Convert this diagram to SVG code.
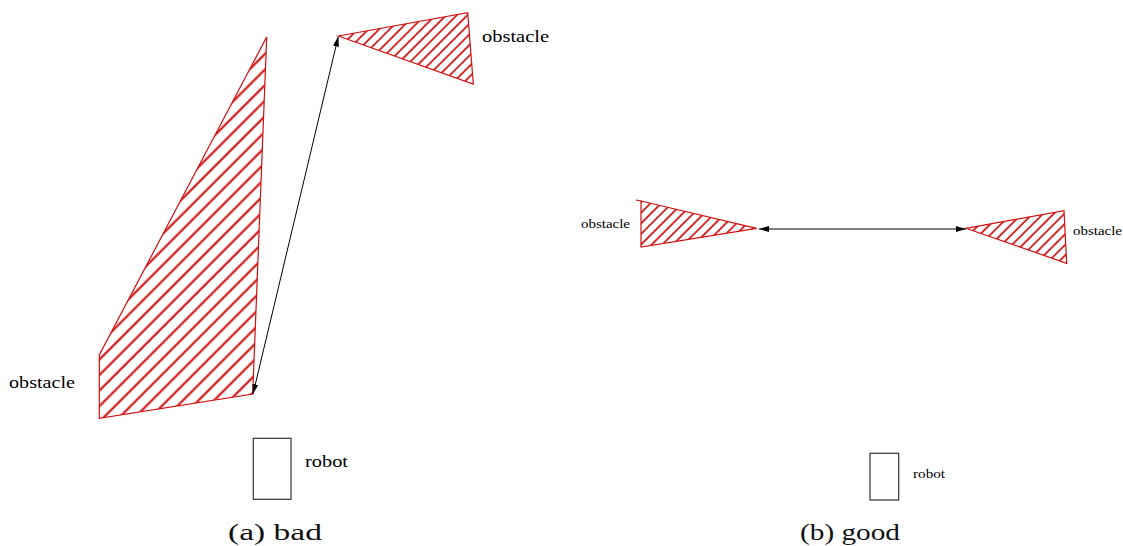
<svg xmlns="http://www.w3.org/2000/svg" width="1123" height="546" viewBox="0 0 1123 546">
<style>
.obs{stroke:#d01010;stroke-width:1.2;stroke-linejoin:miter}
.lbl{font-family:"Liberation Serif",serif;fill:#000}
.rob{fill:none;stroke:#333;stroke-width:1.2}
.con{stroke:#000;stroke-width:1;fill:none;marker-start:url(#ah);marker-end:url(#ah)}
.cap{font-family:"Liberation Serif",serif;font-size:23px;fill:#111}
</style>
<defs>
<pattern id="hatchL" patternUnits="userSpaceOnUse" width="11" height="11" patternTransform="rotate(-45)">
<line x1="0" y1="5.5" x2="11" y2="5.5" stroke="#cc0000" stroke-width="2"/>
</pattern>
<pattern id="hatchS" patternUnits="userSpaceOnUse" width="7.5" height="7.5" patternTransform="rotate(-45)">
<line x1="0" y1="3.75" x2="7.5" y2="3.75" stroke="#cc0000" stroke-width="1.6"/>
</pattern>
<marker id="ah" viewBox="0 0 10 6" refX="10" refY="3" markerWidth="10" markerHeight="6" markerUnits="userSpaceOnUse" orient="auto-start-reverse">
<path d="M0,0 L10,3 L0,6 Z" fill="#000"/>
</marker>
</defs>
<g id="obstacle-a1">
<polygon class="obs" fill="url(#hatchL)" points="266.7,37 99.3,355 99.3,418.3 252.7,394"/>
<text class="lbl" x="9" y="388" font-size="17" textLength="66" lengthAdjust="spacingAndGlyphs">obstacle</text>
</g>
<g id="obstacle-a2">
<polygon class="obs" fill="url(#hatchS)" points="338.3,36 467.7,12.7 473.3,84"/>
<text class="lbl" x="482" y="42" font-size="17" textLength="67" lengthAdjust="spacingAndGlyphs">obstacle</text>
</g>
<g id="robot-a">
<rect class="rob" x="253.3" y="438.3" width="37.7" height="61"/>
<text class="lbl" x="305" y="467" font-size="17" textLength="43" lengthAdjust="spacingAndGlyphs">robot</text>
</g>
<g id="obstacle-b1">
<polygon class="obs" fill="url(#hatchS)" points="641,201 756.7,228.3 641,247"/>
<line class="obs" x1="636" y1="200" x2="641" y2="201"/>
<text class="lbl" x="581" y="228" font-size="12.5" textLength="49" lengthAdjust="spacingAndGlyphs">obstacle</text>
</g>
<g id="obstacle-b2">
<polygon class="obs" fill="url(#hatchS)" points="966,228.3 1064,210.7 1066.7,263.3"/>
<text class="lbl" x="1073" y="235" font-size="12.5" textLength="49" lengthAdjust="spacingAndGlyphs">obstacle</text>
</g>
<g id="robot-b">
<rect class="rob" x="870" y="453.3" width="28.7" height="46.7"/>
<text class="lbl" x="913" y="478" font-size="12.5" textLength="32" lengthAdjust="spacingAndGlyphs">robot</text>
</g>
<g id="connectors">
<line class="con" x1="253" y1="394" x2="338.3" y2="36.5"/>
<line class="con" x1="759" y1="229" x2="966" y2="229"/>
</g>
<text class="cap" x="228" y="540" textLength="94" lengthAdjust="spacingAndGlyphs">(a) bad</text>
<text class="cap" x="800" y="540" textLength="100" lengthAdjust="spacingAndGlyphs">(b) good</text>
</svg>
